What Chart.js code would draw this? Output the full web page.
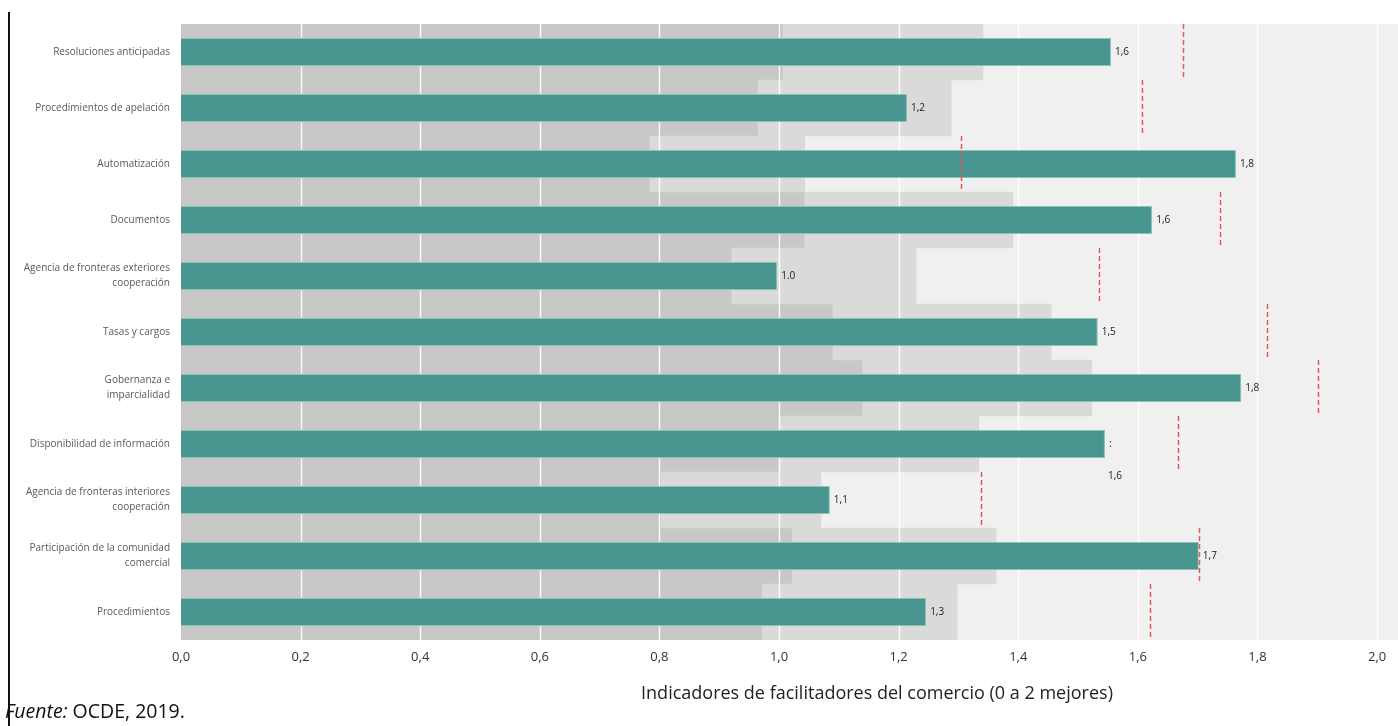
<!doctype html>
<html>
<head>
  <meta charset="utf-8">
  <title>Indicadores de facilitadores del comercio</title>
  <script src="https://cdn.jsdelivr.net/npm/chart.js@4.4.1/dist/chart.umd.min.js"></script>
  <style>
    html,body{margin:0;padding:0;background:#fff;}
    #wrap{position:relative;width:1398px;height:726px;overflow:hidden;}
    #chart{position:absolute;left:0;top:0;}
    #edge{position:absolute;left:8px;top:12px;width:2px;height:714px;background:#111;}
    #xtitle{position:absolute;left:877px;top:680px;transform:translateX(-50%);white-space:nowrap;
            font:18px "Open Sans",sans-serif;color:#222;}
    #source{position:absolute;left:5px;top:697px;font:19.5px "Open Sans",sans-serif;color:#111;}
  </style>
</head>
<body>
<div id="wrap">
  <canvas id="chart" width="1398" height="726"></canvas>
  <div id="edge"></div>
  <div id="xtitle">Indicadores de facilitadores del comercio (0 a 2 mejores)</div>
  <div id="source"><i>Fuente:</i> OCDE, 2019.</div>
</div>

<script>
// categories, top to bottom
const categories = [
  'Resoluciones anticipadas',
  'Procedimientos de apelación',
  'Automatización',
  'Documentos',
  ['Agencia de fronteras exteriores', 'cooperación'],
  'Tasas y cargos',
  ['Gobernanza e', 'imparcialidad'],
  'Disponibilidad de información',
  ['Agencia de fronteras interiores', 'cooperación'],
  ['Participación de la comunidad', 'comercial'],
  'Procedimientos'
];

// country score (teal bars)
const scores  = [1.555, 1.214, 1.764, 1.624, 0.997, 1.533, 1.773, 1.545, 1.085, 1.702, 1.246];
const valueLabels = ['1,6', '1,2', '1,8', '1,6', '1.0', '1,5', '1,8', ':', '1,1', '1,7', '1,3'];

// grey bands: dark up to lowBand, medium up to midBand, light beyond
const lowBand = [1.007, 0.965, 0.784, 1.043, 0.921, 1.090, 1.140, 1.000, 0.803, 1.022, 0.972];
const midBand = [1.341, 1.288, 1.043, 1.391, 1.229, 1.455, 1.523, 1.334, 1.070, 1.363, 1.298];

// red dashed reference marks
const targets = [1.676, 1.607, 1.304, 1.737, 1.535, 1.816, 1.901, 1.667, 1.338, 1.702, 1.620];

const xTickLabels = ['0,0','0,2','0,4','0,6','0,8','1,0','1,2','1,4','1,6','1,8','2,0'];
const xMax = 2.035;

const lightBg = {
  id: 'lightBg',
  beforeDatasetsDraw(chart) {
    const {ctx, chartArea: a} = chart;
    ctx.save();
    ctx.fillStyle = '#f0f0f0';
    ctx.fillRect(a.left, a.top, a.right - a.left, a.bottom - a.top);
    ctx.restore();
  }
};

// white grid lines over the grey bands but under the teal bars
const bandGrid = {
  id: 'bandGrid',
  afterDatasetDraw(chart, args) {
    if (args.index !== 1) return;
    const {ctx, chartArea: a, scales: {x}} = chart;
    ctx.save();
    ctx.strokeStyle = 'rgba(255,255,255,0.85)';
    ctx.lineWidth = 1.5;
    x.ticks.forEach(t => {
      if (t.value === 0) return;
      const px = Math.round(x.getPixelForValue(t.value)) + 0.5;
      ctx.beginPath();
      ctx.moveTo(px, a.top);
      ctx.lineTo(px, a.bottom);
      ctx.stroke();
    });
    ctx.restore();
  }
};

// dashed red mark across each category row, at the target value
const targetMarks = {
  id: 'targetMarks',
  afterDatasetsDraw(chart) {
    const {ctx, scales: {x, y}} = chart;
    const half = (y.getPixelForValue(1) - y.getPixelForValue(0)) / 2;
    ctx.save();
    ctx.strokeStyle = '#e8575b';
    ctx.lineWidth = 1.5;
    ctx.setLineDash([5, 3]);
    targets.forEach((t, i) => {
      const px = Math.round(x.getPixelForValue(t)) + 0.5;
      const cy = y.getPixelForValue(i);
      ctx.beginPath();
      ctx.moveTo(px, cy - half);
      ctx.lineTo(px, cy + half);
      ctx.stroke();
    });
    ctx.restore();
  }
};

const barValues = {
  id: 'barValues',
  afterDatasetsDraw(chart) {
    const {ctx} = chart;
    const meta = chart.getDatasetMeta(2);
    ctx.save();
    ctx.font = '10px "Open Sans", sans-serif';
    ctx.fillStyle = '#222';
    ctx.textBaseline = 'middle';
    meta.data.forEach((bar, i) => {
      ctx.fillText(valueLabels[i], bar.x + 4, bar.y);
      if (i === 7) ctx.fillText('1,6', bar.x + 3, bar.y + 32);   // stray label below the bar
    });
    ctx.restore();
  }
};

new Chart(document.getElementById('chart'), {
  type: 'bar',
  data: {
    labels: categories,
    datasets: [
      { label: 'bajo', data: lowBand.map(v => [0, v]), backgroundColor: '#c8c8c8',
        barPercentage: 1, categoryPercentage: 1, grouped: false, order: 3 },
      { label: 'medio', data: lowBand.map((v, i) => [v, midBand[i]]), backgroundColor: '#dadada',
        barPercentage: 1, categoryPercentage: 1, grouped: false, order: 2 },
      { label: 'valor', data: scores, backgroundColor: '#48968f', borderColor: '#8cc0b9', borderWidth: 1,
        barPercentage: 0.5, categoryPercentage: 1, grouped: false, order: 1 }
    ]
  },
  options: {
    indexAxis: 'y',
    responsive: false,
    animation: false,
    layout: { padding: { top: 24, right: 0, bottom: 6, left: 0 } },
    plugins: { legend: { display: false }, tooltip: { enabled: false } },
    scales: {
      x: {
        type: 'linear', min: 0, max: xMax, position: 'bottom',
        grid: { display: false, drawTicks: false }, border: { display: false },
        ticks: { stepSize: 0.2, includeBounds: false, padding: 9, color: '#333',
                 font: { family: 'Open Sans', size: 13 },
                 callback: (v, i) => xTickLabels[i] },
        afterFit: s => { s.height = 80; }
      },
      y: {
        type: 'category',
        grid: { display: false, drawTicks: false }, border: { display: false },
        ticks: { autoSkip: false, padding: 11, color: '#595959',
                 font: { family: 'Open Sans', size: 10, lineHeight: 1.5 } },
        afterFit: s => { s.width = 181; }
      }
    }
  },
  plugins: [lightBg, bandGrid, targetMarks, barValues]
});
</script>
</body>
</html>
